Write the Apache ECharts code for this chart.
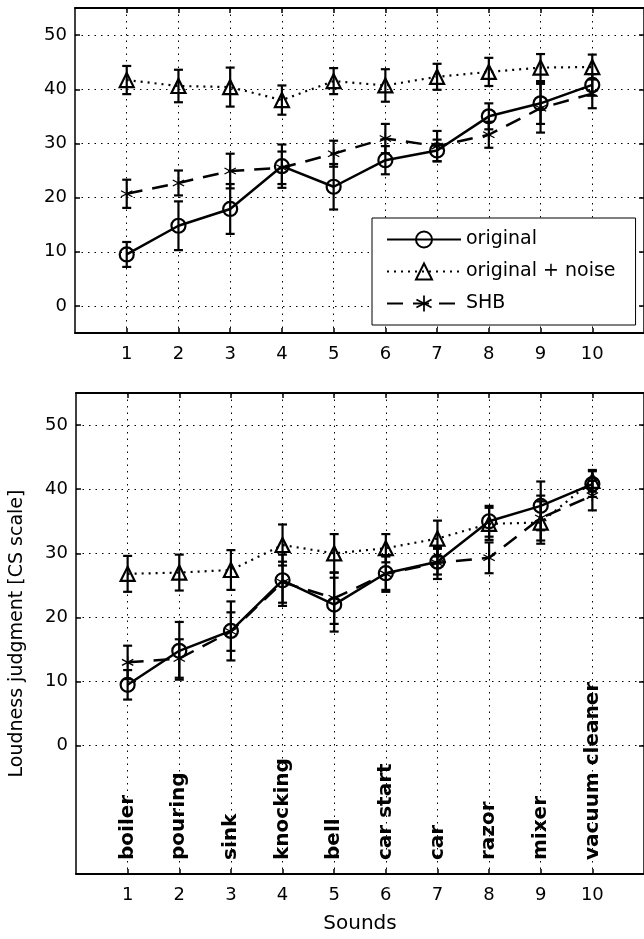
<!DOCTYPE html>
<html>
<head>
<meta charset="utf-8">
<script src="https://cdn.jsdelivr.net/npm/echarts@6/dist/echarts.min.js"></script>
<style>
  html, body { margin: 0; padding: 0; background: #fff; }
  #chart { width: 644px; height: 939px; }
</style>
</head>
<body>
<div id="chart"></div>
<script>
// sound names written under the lower panel
const sounds = ["boiler", "pouring", "sink", "knocking", "bell", "car start", "car", "razor", "mixer", "vacuum cleaner"];
const xTicks = [1, 2, 3, 4, 5, 6, 7, 8, 9, 10];
const yTicks = [0, 10, 20, 30, 40, 50];

// original (same in both panels)
const origMean = [9.5, 14.8, 17.9, 25.8, 22.0, 26.9, 28.7, 35.0, 37.4, 40.8];
const origErr = [2.3, 4.5, 4.6, 4.0, 4.2, 2.6, 2.0, 2.4, 3.8, 2.0];

// upper panel
const noiseMeanA = [41.7, 40.6, 40.4, 38.0, 41.5, 40.7, 42.3, 43.2, 44.0, 44.1];
const noiseErrA = [2.6, 3.0, 3.6, 2.7, 2.4, 3.0, 2.4, 2.6, 2.5, 2.3];
const shbMeanA = [20.7, 22.7, 24.9, 25.5, 28.1, 30.9, 29.5, 31.6, 36.5, 39.2];
const shbErrA = [2.6, 2.3, 3.2, 3.0, 2.4, 2.7, 2.8, 2.4, 4.5, 2.7];

// lower panel
const noiseMeanB = [26.8, 27.0, 27.4, 31.3, 30.0, 30.8, 32.3, 34.6, 34.8, 41.3];
const noiseErrB = [2.8, 2.8, 3.1, 3.2, 3.0, 2.2, 2.8, 2.5, 3.3, 1.7];
const shbMeanB = [13.0, 13.6, 17.8, 25.5, 23.0, 26.8, 28.5, 29.3, 35.5, 39.0];
const shbErrB = [2.6, 3.0, 3.0, 3.2, 4.0, 2.8, 2.5, 2.4, 3.5, 2.3];

const FONT = "DejaVu Sans";
const STAR = "path://M9 0L11 0L11 20L9 20Z M1.84 15.87L0.84 14.13L18.16 4.13L19.16 5.87Z M0.84 5.87L1.84 4.13L19.16 14.13L18.16 15.87Z";

function pts(means) {
  return means.map((v, i) => [xTicks[i], v]);
}
function bars(means, errs) {
  return means.map((v, i) => [xTicks[i], v, errs[i]]);
}

// vertical error bar with small caps
const renderErr = function (params, api) {
  const x = api.value(0), v = api.value(1), e = api.value(2);
  const hi = api.coord([x, v + e]);
  const lo = api.coord([x, v - e]);
  const style = { stroke: "#000", lineWidth: 2.2 };
  const w = 4.5;
  return {
    type: "group",
    children: [
      { type: "line", shape: { x1: hi[0], y1: hi[1], x2: lo[0], y2: lo[1] }, style: style },
      { type: "line", shape: { x1: hi[0] - w, y1: hi[1], x2: hi[0] + w, y2: hi[1] }, style: style },
      { type: "line", shape: { x1: lo[0] - w, y1: lo[1], x2: lo[0] + w, y2: lo[1] }, style: style }
    ]
  };
};

function panelSeries(xi, yi, noiseMean, noiseErr, shbMean, shbErr) {
  const errSeries = (m, e) => ({
    type: "custom", xAxisIndex: xi, yAxisIndex: yi, renderItem: renderErr,
    encode: { x: 0, y: 1 }, data: bars(m, e), silent: true
  });
  return [
    errSeries(origMean, origErr),
    errSeries(noiseMean, noiseErr),
    errSeries(shbMean, shbErr),
    {
      name: "original", type: "line", xAxisIndex: xi, yAxisIndex: yi,
      data: pts(origMean), symbol: "circle", symbolSize: 14,
      lineStyle: { color: "#000", width: 2.5 },
      itemStyle: { color: "rgba(0,0,0,0)", borderColor: "#000", borderWidth: 2.2 }
    },
    {
      name: "original + noise", type: "line", xAxisIndex: xi, yAxisIndex: yi,
      data: pts(noiseMean), symbol: "triangle", symbolSize: 14,
      lineStyle: { color: "#000", width: 2.2, type: [2, 5] },
      itemStyle: { color: "rgba(0,0,0,0)", borderColor: "#000", borderWidth: 2.2 }
    },
    {
      name: "SHB", type: "line", xAxisIndex: xi, yAxisIndex: yi,
      data: pts(shbMean), symbol: STAR, symbolSize: 12,
      lineStyle: { color: "#000", width: 2.5, type: [16, 10] },
      itemStyle: { color: "#000" }
    }
  ];
}

const tickStyle = { color: "#000", width: 1.5 };
const gridLine = { show: true, lineStyle: { color: "#000", width: 1, type: [1.5, 5] } };
const labelStyle = { color: "#000", fontFamily: FONT, fontSize: 18 };

function xBottom(g, extra) {
  return Object.assign({
    gridIndex: g, type: "value", min: 0, max: 11, interval: 1, position: "bottom",
    axisLine: { show: true, onZero: false, lineStyle: { color: "#000", width: 2 } },
    axisTick: { inside: true, length: 5, customValues: xTicks, lineStyle: tickStyle },
    axisLabel: Object.assign({ customValues: xTicks, margin: 12 }, labelStyle),
    splitLine: gridLine
  }, extra || {});
}
function xTop(g) {
  return {
    gridIndex: g, type: "value", min: 0, max: 11, interval: 1, position: "top",
    axisLine: { show: true, onZero: false, lineStyle: { color: "#000", width: 2 } },
    axisTick: { inside: true, length: 5, customValues: xTicks, lineStyle: tickStyle },
    axisLabel: { show: false }, splitLine: { show: false }
  };
}
function yLeft(g, lo, extra) {
  return Object.assign({
    gridIndex: g, type: "value", min: lo, max: 55, position: "left",
    axisLine: { show: true, onZero: false, lineStyle: { color: "#000", width: 1.5 } },
    axisTick: { inside: true, length: 5, customValues: yTicks, lineStyle: tickStyle },
    axisLabel: Object.assign({ customValues: yTicks, margin: 8 }, labelStyle),
    splitLine: gridLine
  }, extra || {});
}
function yRight(g, lo) {
  return {
    gridIndex: g, type: "value", min: lo, max: 55, position: "right",
    axisLine: { show: true, onZero: false, lineStyle: { color: "#000", width: 1.5 } },
    axisTick: { inside: true, length: 5, customValues: yTicks, lineStyle: tickStyle },
    axisLabel: { show: false }, splitLine: { show: false }
  };
}

const option = {
  animation: false,
  backgroundColor: "#fff",
  grid: [
    { left: 75, top: 8, width: 572, height: 325 },
    { left: 75, top: 393, width: 572, height: 487 }
  ],
  legend: {
    data: ["original", "original + noise", "SHB"],
    orient: "vertical", left: 372, top: 218,
    backgroundColor: "#fff", borderColor: "#000", borderWidth: 1,
    padding: [12, 20, 12, 14], itemGap: 13, itemWidth: 74, itemHeight: 20,
    textStyle: { fontFamily: FONT, fontSize: 19, color: "#000" },
    selectedMode: false
  },
  xAxis: [
    xBottom(0),
    xTop(0),
    xBottom(1, {
      name: "Sounds", nameLocation: "middle", nameGap: 40,
      nameTextStyle: { fontFamily: FONT, fontSize: 20, color: "#000" }
    }),
    xTop(1),
    {
      gridIndex: 1, type: "value", min: 0, max: 11, interval: 1, position: "bottom",
      axisLine: { show: false, onZero: false }, axisTick: { show: false }, splitLine: { show: false },
      axisLabel: {
        inside: true, rotate: 90, margin: 14, customValues: xTicks,
        formatter: v => sounds[xTicks.indexOf(v)] || "",
        color: "#000", fontFamily: FONT, fontSize: 20, fontWeight: "bold"
      }
    }
  ],
  yAxis: [
    yLeft(0, -5),
    yRight(0, -5),
    yLeft(1, -20, {
      name: "Loudness judgment [CS scale]", nameLocation: "middle", nameGap: 49,
      nameTextStyle: { fontFamily: FONT, fontSize: 19, color: "#000" }
    }),
    yRight(1, -20)
  ],
  series: [].concat(
    panelSeries(0, 0, noiseMeanA, noiseErrA, shbMeanA, shbErrA),
    panelSeries(2, 2, noiseMeanB, noiseErrB, shbMeanB, shbErrB)
  )
};

const myChart = echarts.init(document.getElementById("chart"));
myChart.setOption(option);
</script>
</body>
</html>
